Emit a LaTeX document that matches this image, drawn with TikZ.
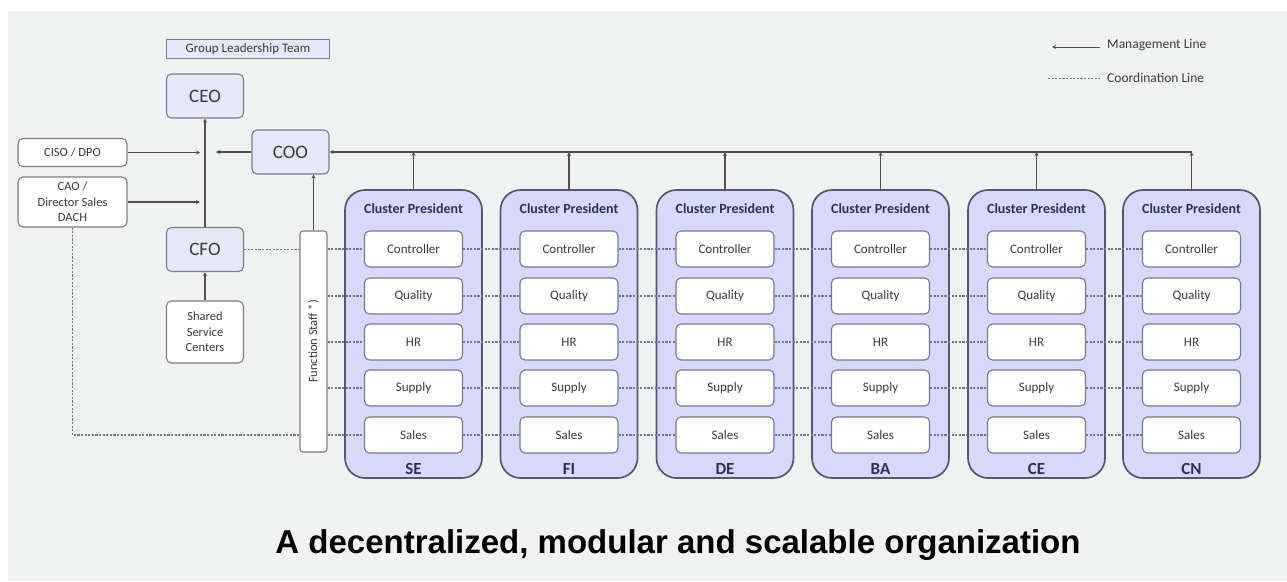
\documentclass[tikz,border=0pt]{standalone}
\usepackage{fontspec}
\setmainfont{Carlito}
\newfontfamily\titlefont{Liberation Sans}
\usetikzlibrary{arrows.meta,calc}
\definecolor{bgc}{HTML}{F0F1F1}
\definecolor{execfill}{HTML}{E6E8F7}
\definecolor{boxline}{HTML}{7C7C84}
\definecolor{clfill}{HTML}{D8D8FA}
\definecolor{clline}{HTML}{55576A}
\definecolor{navy}{HTML}{2E3158}
\definecolor{txt}{HTML}{3C3C3C}
\definecolor{mline}{HTML}{505050}
\definecolor{dline}{HTML}{75758C}
\pgfdeclarelayer{back}
\pgfdeclarelayer{mid}
\pgfsetlayers{back,mid,main}
\tikzset{
  execbox/.style={draw=boxline, line width=1.1pt, fill=execfill, rounded corners=5pt,
    minimum width=77pt, minimum height=44pt, inner sep=0pt, text=txt,
    font=\fontsize{19}{21}\selectfont},
  sidebox/.style={draw=boxline, line width=1.1pt, fill=white, rounded corners=5pt,
    minimum width=109pt, inner sep=0pt, text=txt, align=center,
    font=\fontsize{12.5}{15.5}\selectfont},
  clusterbox/.style={draw=clline, line width=1.7pt, fill=clfill, rounded corners=20pt,
    minimum width=137pt, minimum height=288pt, inner sep=0pt},
  innerbox/.style={draw=clline!80, line width=1.1pt, fill=white, rounded corners=5pt,
    minimum width=98pt, minimum height=36pt, inner sep=0pt, text=txt,
    font=\fontsize{13}{15}\selectfont},
  cptext/.style={text=navy, font=\bfseries\fontsize{14}{16}\selectfont, inner sep=0pt},
  cllabel/.style={text=navy, font=\bfseries\fontsize{17}{19}\selectfont, inner sep=0pt},
  mgmt/.style={draw=mline, line width=1.1pt, -{Stealth[length=4pt,width=4pt]}},
  coordl/.style={draw=dline, line width=1.2pt, dash pattern=on 2.2pt off 1.4pt},
  legtext/.style={text=txt, font=\fontsize{13.5}{15}\selectfont, anchor=west, inner sep=0pt},
}
\begin{document}
\begin{tikzpicture}[x=1pt,y=-1pt]
\useasboundingbox (0,0) rectangle (1287,581);
\begin{pgfonlayer}{back}
\fill[white] (0,0) rectangle (1287,581);
\fill[bgc] (8,11) rectangle (1287,581);
\end{pgfonlayer}

% executive nodes
\node[draw=boxline, line width=1.1pt, fill=execfill, minimum width=163pt, minimum height=19pt,
  inner sep=0pt, text=txt, font=\fontsize{13}{15}\selectfont] (GLT) at (248,49) {Group Leadership Team};
\node[execbox] (CEO) at (205,96) {CEO};
\node[execbox] (COO) at (290.5,152) {COO};
\node[execbox] (CFO) at (205,249.5) {CFO};
\node[sidebox, minimum height=28pt] (CISO) at (72.5,152.5) {CISO / DPO};
\node[sidebox, minimum height=50pt] (CAO) at (72.5,202) {CAO /\\Director Sales\\DACH};
\node[sidebox, minimum width=77pt, minimum height=62pt] (SSC) at (205,332) {Shared\\Service\\Centers};
\node[draw=boxline, line width=1.1pt, fill=white, rounded corners=3pt, minimum width=27pt,
  minimum height=221pt, inner sep=0pt] (FS) at (313.5,341.5) {};
\node[rotate=90, text=txt, font=\fontsize{12.5}{14}\selectfont, inner sep=0pt] (FStext) at (FS.center) {Function Staff *)};

% clusters
\foreach \i/\x/\lab in {1/413.5/SE,2/569/FI,3/725/DE,4/880.5/BA,5/1036.5/CE,6/1191.5/CN}{
  \begin{pgfonlayer}{back}
    \node[clusterbox] (cl\i) at (\x,334) {};
  \end{pgfonlayer}
  \node[cptext] (cp\i) at (\x,209) {Cluster President};
  \node[cllabel] (lab\i) at (\x,469) {\lab};
  \foreach \j/\t/\y in {1/Controller/249,2/Quality/296,3/HR/342,4/Supply/388,5/Sales/435}{
    \node[innerbox] (b\i-\j) at (\x,\y) {\t};
  }
}

% coordination lines
\begin{pgfonlayer}{mid}
\foreach \j in {1,...,5}{
  \draw[coordl] (FS.east |- b1-\j.west) -- (b1-\j.west);
  \foreach \i/\k in {1/2,2/3,3/4,4/5,5/6}{
    \draw[coordl] (b\i-\j.east) -- (b\k-\j.west);
  }
}
\draw[coordl] (CFO.east) -- (FS.west |- CFO.east);
\draw[coordl] (CAO.south) |- (FS.west |- b1-5.west);
\end{pgfonlayer}

% management lines
\coordinate (junc) at (cl6.north |- COO.east);
\draw[mgmt] (junc) -- (COO.east);
\foreach \i in {1,...,5}{
  \draw[mgmt] (cl\i.north) -- (cl\i.north |- COO.east);
}
\draw[mgmt] (cl6.north) -- (junc);
\coordinate (cooTip) at ($(CEO.south |- COO.west)+(11,0)$);
\draw[mgmt] (COO.west) -- (cooTip);
\coordinate (cisoTip) at ($(CEO.south |- CISO.east)+(-5,0)$);
\draw[mgmt] (CISO.east) -- (cisoTip);
\coordinate (caoTip) at ($(CEO.south |- CAO.east)+(-5,0)$);
\draw[mgmt] (CAO.east) -- (caoTip);
\draw[mgmt] (CFO.north) -- (CEO.south);
\draw[mgmt] (SSC.north) -- (CFO.south);
\draw[mgmt] (FS.north) -- (FS.north |- COO.south);

% legend
\coordinate (lgA) at (1100,47);
\coordinate (lgB) at (1052,47);
\draw[mgmt, line width=0.9pt] (lgA) -- (lgB);
\node[legtext] (lgM) at (1107,45) {Management Line};
\coordinate (lgC) at (1048,78);
\coordinate (lgD) at (1100,78);
\draw[coordl, line width=0.9pt] (lgC) -- (lgD);
\node[legtext] (lgK) at (1107,78) {Coordination Line};

% title
\node[anchor=base, inner sep=0pt, font=\titlefont\bfseries\fontsize{33}{36}\selectfont] (title) at (678,553)
  {A decentralized, modular and scalable organization};
\end{tikzpicture}
\end{document}
